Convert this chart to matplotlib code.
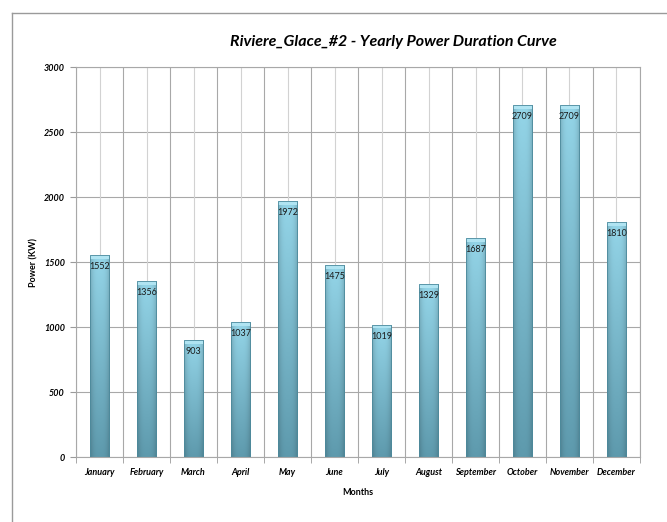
import numpy as np
import matplotlib
matplotlib.use("Agg")
import matplotlib.pyplot as plt
from matplotlib.patches import Rectangle
from matplotlib.lines import Line2D

# data
months = ["January", "February", "March", "April", "May", "June",
          "July", "August", "September", "October", "November", "December"]
power_kw = [1552, 1356, 903, 1037, 1972, 1475, 1019, 1329, 1687, 2709, 2709, 1810]
y_ticks = [0, 500, 1000, 1500, 2000, 2500, 3000]

plt.rcParams['font.family'] = ['Lato', 'DejaVu Sans']

fig = plt.figure(figsize=(6.67, 5.22), dpi=100)
ax = fig.add_axes([0.114, 0.1245, 0.8455, 0.7471])

# outer chart border (only top and left edges are inside the picture)
bx, by = 12 / 667, 1 - 13 / 522
fig.lines.append(Line2D([bx, 1.0], [by, by], transform=fig.transFigure,
                        color='#9a9a9a', linewidth=1.0))
fig.lines.append(Line2D([bx, bx], [0, by], transform=fig.transFigure,
                        color='#9a9a9a', linewidth=1.0))

x = np.arange(len(months))
bar_w = 0.42
bars = ax.bar(x, power_kw, width=bar_w, color='none', edgecolor='#4d8a9c',
              linewidth=0.6, zorder=3)

# gradient fill for each bar: light on top, darker at the bottom, shaded edges
light = np.array([0x94, 0xd5, 0xe8]) / 255
dark = np.array([0x5e, 0x9a, 0xad]) / 255
t = np.linspace(1, 0, 80)[:, None, None]
u = np.linspace(0, 1, 40)[None, :, None]
grad = dark + (light - dark) * t
shade = 1 - 0.18 * np.abs(2 * u - 1) ** 3
img = np.clip(grad * shade, 0, 1)

for b, v in zip(bars, power_kw):
    x0 = b.get_x()
    im = ax.imshow(img, extent=(x0, x0 + bar_w, 0, v), aspect='auto',
                   zorder=2, interpolation='bilinear')
    im.set_clip_path(b)
    cap = 30
    ax.add_patch(Rectangle((x0, v - cap), bar_w, cap, facecolor='#b0e4f2',
                           edgecolor='none', zorder=2.5))
    ax.text(b.get_x() + bar_w / 2, v - 90, str(v), ha='center', va='center',
            fontsize=6.5, color='#1a1a1a', zorder=4)

ax.set_xlim(-0.5, len(months) - 0.5)
ax.set_ylim(0, 3000)
ax.set_yticks(y_ticks)
ax.set_yticklabels([str(v) for v in y_ticks], fontsize=6.5,
                   fontweight='bold', fontstyle='italic')
ax.set_xticks(x)
ax.set_xticklabels(months, fontsize=6.5, fontweight='bold', fontstyle='italic')
ax.tick_params(axis='x', length=0, pad=8)
ax.set_xticks(np.arange(-0.5, len(months)), minor=True)
ax.tick_params(axis='x', which='minor', length=4, color='#9a9a9a')
ax.tick_params(axis='y', length=4, color='#9a9a9a', pad=4)

# grid: horizontal, category boundaries and lighter lines at centres
for yv in y_ticks:
    ax.axhline(yv, color='#a8a8a8', linewidth=0.8, zorder=1)
for xv in np.arange(-0.5, len(months)):
    ax.axvline(xv, color='#a8a8a8', linewidth=0.8, zorder=1)
for xv in x:
    ax.axvline(xv, color='#d2d2d2', linewidth=0.8, zorder=1)

for s in ax.spines.values():
    s.set_color('#a8a8a8')
    s.set_linewidth(0.8)

ax.set_xlabel("Months", fontsize=6.5, fontweight='bold', labelpad=8)
ax.set_ylabel("Power (KW)", fontsize=6.5, fontweight='bold', labelpad=4)
fig.text(0.59, 0.92, "Riviere_Glace_#2 - Yearly Power Duration Curve",
         ha='center', va='center', fontsize=11.5, fontweight='bold',
         fontstyle='italic')

fig.savefig("out.png", dpi=100)
